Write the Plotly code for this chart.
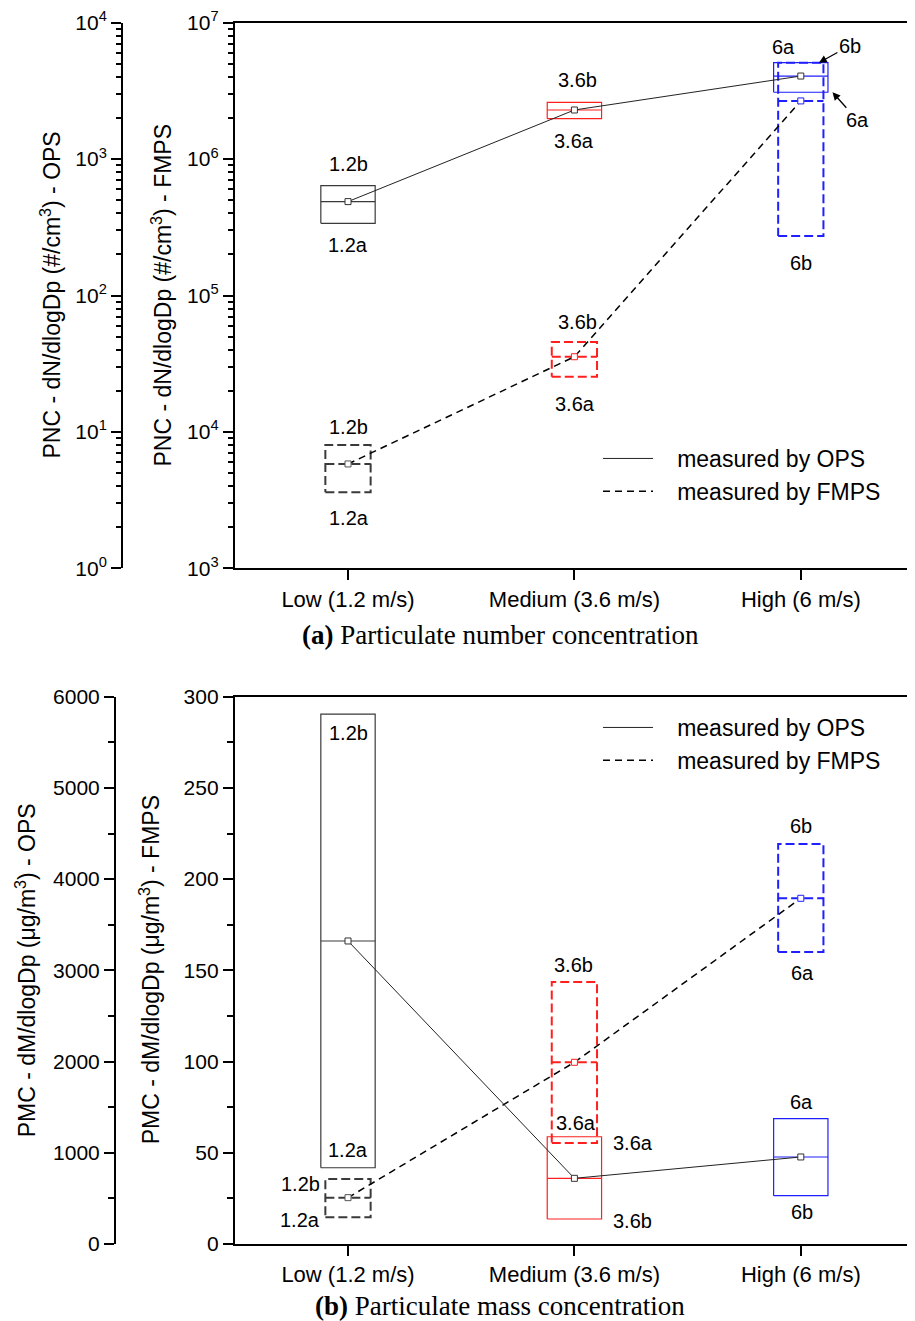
import math
import plotly.graph_objects as go

# ---------------- data ----------------
categories = ["Low (1.2 m/s)", "Medium (3.6 m/s)", "High (6 m/s)"]
box_colors = ["#3a3a3a", "#ff1f1f", "#1f1fff"]

# (a) particulate number concentration, dN/dlogDp (#/cm3)
pnc_ops_lo = [338, 1977, 3090]
pnc_ops_hi = [638, 2608, 5093]
pnc_ops_mean = [488, 2291, 4064]
pnc_fmps_lo = [3607, 25400, 273000]
pnc_fmps_hi = [8017, 45600, 5090000]
pnc_fmps_mean = [5821, 35560, 2670000]

# (b) particulate mass concentration, dM/dlogDp (ug/m3)
pmc_ops_lo = [836, 274, 530]
pmc_ops_hi = [5810, 1176, 1374]
pmc_ops_mean = [3322, 720, 954]
pmc_fmps_lo = [14.6, 55.4, 160.1]
pmc_fmps_hi = [35.6, 143.6, 219.2]
pmc_fmps_mean = [25.4, 99.6, 189.5]

# ---------------- geometry helpers ----------------
OFF = 8  # page body margin
W, H = 915 - OFF, 1321 - OFF


def fx(px):
    return (px - OFF) / W


def fy(py):
    return 1 - (py - OFF) / H


xpos = [i + 1 for i in range(len(categories))]
X_L, X_R = 234.8, 914.0
TOP_A, BOT_A = 22.7, 568.3
TOP_B, BOT_B = 696.7, 1244.0
dom_x = [fx(X_L), min(1.0, fx(X_R))]
dom_a = [fy(BOT_A), fy(TOP_A)]
dom_b = [fy(BOT_B), fy(TOP_B)]

HW_SOLID = 0.12
HW_DASH = 0.10
FONT = "Liberation Sans, Arial, sans-serif"
NB = "\u00a0\u00a0\u00a0"


def box_path(xc, hw, lo, hi, mid):
    xs = [xc - hw, xc + hw, xc + hw, xc - hw, xc - hw, None, xc - hw, xc + hw]
    ys = [lo, lo, hi, hi, lo, None, mid, mid]
    return xs, ys


fig = go.Figure()


def add_panel(xa, ya_fmps, ya_ops, ops_lo, ops_hi, ops_mean,
              fmps_lo, fmps_hi, fmps_mean, legend):
    for i in range(len(categories)):
        xs, ys = box_path(xpos[i], HW_SOLID, ops_lo[i], ops_hi[i], ops_mean[i])
        fig.add_trace(go.Scatter(x=xs, y=ys, mode="lines", xaxis=xa, yaxis=ya_ops,
                                 line=dict(color=box_colors[i], width=1.2),
                                 showlegend=False, hoverinfo="skip"))
    for i in range(len(categories)):
        xs, ys = box_path(xpos[i], HW_DASH, fmps_lo[i], fmps_hi[i], fmps_mean[i])
        fig.add_trace(go.Scatter(x=xs, y=ys, mode="lines", xaxis=xa, yaxis=ya_fmps,
                                 line=dict(color=box_colors[i], width=2, dash="9px,4px"),
                                 showlegend=False, hoverinfo="skip"))
    fig.add_trace(go.Scatter(x=xpos, y=fmps_mean, mode="lines", xaxis=xa, yaxis=ya_fmps,
                             name=NB + "measured by FMPS", legend=legend, legendrank=2,
                             line=dict(color="black", width=1.5, dash="7px,5px")))
    fig.add_trace(go.Scatter(x=xpos, y=ops_mean, mode="lines", xaxis=xa, yaxis=ya_ops,
                             name=NB + "measured by OPS", legend=legend, legendrank=1,
                             line=dict(color="#222222", width=1)))
    fig.add_trace(go.Scatter(x=xpos, y=fmps_mean, mode="markers", xaxis=xa, yaxis=ya_fmps,
                             marker=dict(symbol="square", size=6, color="white",
                                         line=dict(color=["#555555", "#ff1f1f", "#1f1fff"], width=1)),
                             showlegend=False, hoverinfo="skip"))
    fig.add_trace(go.Scatter(x=xpos, y=ops_mean, mode="markers", xaxis=xa, yaxis=ya_ops,
                             marker=dict(symbol="square", size=6, color="white",
                                         line=dict(color="#333333", width=1)),
                             showlegend=False, hoverinfo="skip"))


add_panel("x", "y", "y2", pnc_ops_lo, pnc_ops_hi, pnc_ops_mean,
          pnc_fmps_lo, pnc_fmps_hi, pnc_fmps_mean, "legend")
add_panel("x2", "y3", "y4", pmc_ops_lo, pmc_ops_hi, pmc_ops_mean,
          pmc_fmps_lo, pmc_fmps_hi, pmc_fmps_mean, "legend2")

# ---------------- axes ----------------
tickfont = dict(family=FONT, size=21, color="black")
common_x = dict(range=[0.5, 3.5], domain=dom_x, tickmode="array", tickvals=xpos,
                ticktext=categories, ticks="outside", ticklen=10, tickwidth=2,
                tickcolor="black", showline=True, linewidth=2, linecolor="black",
                mirror=True, showgrid=False, zeroline=False, automargin=False,
                tickfont=dict(family=FONT, size=22, color="black"))


def log_axis(lo_dec, hi_dec, **kw):
    major = [10 ** d for d in range(lo_dec, hi_dec + 1)]
    minor = [m * 10 ** d for d in range(lo_dec, hi_dec) for m in range(2, 10)]
    return dict(type="log", range=[lo_dec, hi_dec], tickmode="array", tickvals=major,
                ticktext=["10<sup>%d</sup>" % d for d in range(lo_dec, hi_dec + 1)],
                ticks="outside", ticklen=10, tickwidth=2, tickcolor="black",
                minor=dict(tickmode="array", tickvals=minor, ticks="outside",
                           ticklen=5, tickwidth=1.5, tickcolor="black"),
                showline=True, linewidth=2, linecolor="black", showgrid=False,
                zeroline=False, automargin=False, tickfont=tickfont, **kw)


def lin_axis(top, step, **kw):
    return dict(range=[0, top], tickmode="linear", tick0=0, dtick=step,
                ticks="outside", ticklen=10, tickwidth=2, tickcolor="black",
                minor=dict(dtick=step / 2, ticks="outside", ticklen=6, tickwidth=1.5,
                           tickcolor="black"),
                showline=True, linewidth=2, linecolor="black", showgrid=False,
                zeroline=False, automargin=False, tickfont=tickfont, **kw)


leg_font = dict(family=FONT, size=23, color="black")
fig.update_layout(
    width=W, height=H, margin=dict(l=0, r=0, t=0, b=0, pad=0, autoexpand=False),
    paper_bgcolor="white", plot_bgcolor="white",
    xaxis=dict(anchor="y", **common_x),
    yaxis=log_axis(3, 7, domain=dom_a, anchor="x"),
    yaxis2=log_axis(0, 4, overlaying="y", anchor="free", position=fx(122), side="left"),
    xaxis2=dict(anchor="y3", **common_x),
    yaxis3=lin_axis(300, 50, domain=dom_b, anchor="x2"),
    yaxis4=lin_axis(6000, 1000, overlaying="y3", anchor="free", position=fx(115), side="left"),
    legend=dict(x=fx(598), y=fy(437), xanchor="left", yanchor="top", font=leg_font,
                bgcolor="rgba(0,0,0,0)", itemwidth=50, tracegroupgap=0),
    legend2=dict(x=fx(598), y=fy(706), xanchor="left", yanchor="top", font=leg_font,
                 bgcolor="rgba(0,0,0,0)", itemwidth=50, tracegroupgap=0),
    showlegend=True,
)

# ---------------- annotations ----------------
ann = []
lab_font = dict(family=FONT, size=20, color="black")


def lab(text, xref, yref, x, y, xshift=0, yshift=0, xanchor="center", logy=False):
    ann.append(dict(text=text, xref=xref, yref=yref, x=x,
                    y=math.log10(y) if logy else y, xshift=xshift, yshift=yshift,
                    xanchor=xanchor, yanchor="middle", showarrow=False, font=lab_font))


# panel (a)
lab("1.2b", "x", "y2", xpos[0], pnc_ops_hi[0], 0, 22, logy=True)
lab("1.2a", "x", "y2", xpos[0], pnc_ops_lo[0], 0, -22, logy=True)
lab("3.6b", "x", "y2", xpos[1], pnc_ops_hi[1], 3, 22, logy=True)
lab("3.6a", "x", "y2", xpos[1], pnc_ops_lo[1], 0, -22, logy=True)
lab("6a", "x", "y2", xpos[2], pnc_ops_hi[2], -17, 16, logy=True)
lab("6b", "x", "y", xpos[2], pnc_fmps_lo[2], 0, -27, logy=True)
lab("3.6b", "x", "y", xpos[1], pnc_fmps_hi[1], 3, 20, logy=True)
lab("3.6a", "x", "y", xpos[1], pnc_fmps_lo[1], 1, -27, logy=True)
lab("1.2b", "x", "y", xpos[0], pnc_fmps_hi[0], 0, 18, logy=True)
lab("1.2a", "x", "y", xpos[0], pnc_fmps_lo[0], 1, -26, logy=True)
ann.append(dict(text="6b", xref="x", yref="y", x=xpos[2] + 0.08,
                y=math.log10(pnc_fmps_hi[2]), ax=31, ay=-17, showarrow=True,
                arrowhead=2, arrowsize=1.2, arrowwidth=1.3, arrowcolor="black",
                font=lab_font))
ann.append(dict(text="6a", xref="x", yref="y2", x=xpos[2] + 0.14,
                y=math.log10(pnc_ops_lo[2]), ax=25, ay=28, showarrow=True,
                arrowhead=2, arrowsize=1.2, arrowwidth=1.3, arrowcolor="black",
                font=lab_font))

# panel (b)
lab("1.2b", "x2", "y4", xpos[0], pmc_ops_hi[0], 0, -19)
lab("1.2a", "x2", "y4", xpos[0], pmc_ops_lo[0], 0, 18)
lab("1.2b", "x2", "y3", xpos[0] - HW_DASH, pmc_fmps_hi[0], -3, -5, xanchor="right")
lab("1.2a", "x2", "y3", xpos[0] - HW_DASH, pmc_fmps_lo[0], -3, -3, xanchor="right")
lab("3.6a", "x2", "y4", xpos[1] + HW_SOLID, pmc_ops_hi[1], 9, -6, xanchor="left")
lab("3.6b", "x2", "y4", xpos[1] + HW_SOLID, pmc_ops_lo[1], 9, -2, xanchor="left")
lab("3.6b", "x2", "y3", xpos[1], pmc_fmps_hi[1], -1, 17)
lab("3.6a", "x2", "y3", xpos[1], pmc_fmps_lo[1], 2, 20)
lab("6a", "x2", "y4", xpos[2], pmc_ops_hi[2], 1, 17)
lab("6b", "x2", "y4", xpos[2], pmc_ops_lo[2], 1, -16)
lab("6b", "x2", "y3", xpos[2], pmc_fmps_hi[2], 0, 18)
lab("6a", "x2", "y3", xpos[2], pmc_fmps_lo[2], 2, -21)

# axis titles
title_font = dict(family=FONT, size=23, color="black")


def ytitle(text, xpx, dom):
    ann.append(dict(text=text, xref="paper", yref="paper", x=fx(xpx),
                    y=(dom[0] + dom[1]) / 2, textangle=-90, showarrow=False,
                    xanchor="center", yanchor="middle", font=title_font))


ytitle("PNC - dN/dlogDp (#/cm<sup>3</sup>) - OPS", 51, dom_a)
ytitle("PNC - dN/dlogDp (#/cm<sup>3</sup>) - FMPS", 162, dom_a)
ytitle("PMC - dM/dlogDp (μg/m<sup>3</sup>) - OPS", 26, dom_b)
ytitle("PMC - dM/dlogDp (μg/m<sup>3</sup>) - FMPS", 150, dom_b)

cap_font = dict(family="Liberation Serif, Times New Roman, serif", size=27, color="black")
ann.append(dict(text="<b>(a)</b> Particulate number concentration", xref="paper",
                yref="paper", x=fx(500), y=fy(635), showarrow=False,
                xanchor="center", yanchor="middle", font=cap_font))
ann.append(dict(text="<b>(b)</b> Particulate mass concentration", xref="paper",
                yref="paper", x=fx(500), y=fy(1306), showarrow=False,
                xanchor="center", yanchor="middle", font=cap_font))

fig.update_layout(annotations=ann)
fig.write_html("out.html")
